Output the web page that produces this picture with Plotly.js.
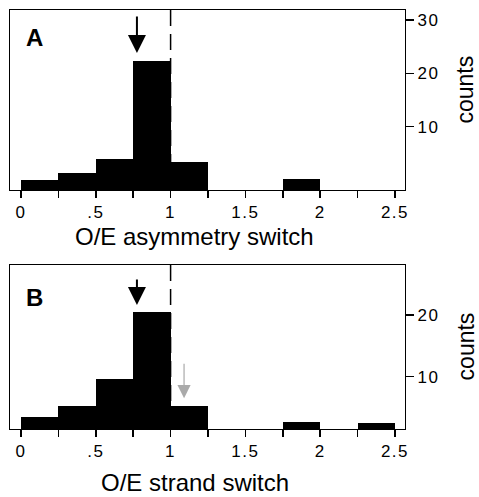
<!DOCTYPE html>
<html>
<head>
<meta charset="utf-8">
<script src="https://cdn.plot.ly/plotly-3.0.1.min.js"></script>
<style>
html,body{margin:0;padding:0;background:#fff;}
#chart{width:479px;height:497px;}
#chart .xtick text, #chart .ytick text, #chart .x2tick text, #chart .y2tick text {letter-spacing: 1.5px;}
</style>
</head>
<body>
<div id="chart"></div>
<script>
// bin left edges (width 0.25)
const binStarts = [0, 0.25, 0.5, 0.75, 1.0, 1.25, 1.5, 1.75, 2.0, 2.25];
const countsA = [1.9, 3.1, 5.8, 24.1, 5.2, 0, 0, 2.0, 0, 0];
const countsB = [2.0, 3.7, 8.1, 18.9, 3.7, 0, 0, 1.1, 0, 1.0];
const xTickVals = [0, 0.5, 1, 1.5, 2, 2.5];
const xTickText = ["0", ".5", "1", "1.5", "2", "2.5"];
const yTickValsA = [10, 20, 30];
const yTickValsB = [10, 20];
const meanA = 0.775, meanB = 0.775, expectedRatio = 1, grayB = 1.09;
const titleA = "O/E asymmetry switch", titleB = "O/E strand switch", yTitle = "counts";

const rangeA = [-1.87, 31.875];
const rangeB = [1.52, 28.1];
const xRange = [-0.0735, 2.567];

const FONT = "Liberation Sans, Arial, Helvetica, sans-serif";

const traces = [
  {type: "bar", x: binStarts, y: countsA, base: rangeA[0], offset: 0, width: 0.25,
   marker: {color: "#000", line: {width: 0}}, xaxis: "x", yaxis: "y", hoverinfo: "skip"},
  {type: "bar", x: binStarts, y: countsB, base: rangeB[0], offset: 0, width: 0.25,
   marker: {color: "#000", line: {width: 0}}, xaxis: "x2", yaxis: "y2", hoverinfo: "skip"}
];

function xAxis(anchor) {
  return {
    anchor: anchor, domain: [0, 1], range: xRange, showgrid: false, zeroline: false,
    tickmode: "array", tickvals: xTickVals, ticktext: xTickText,
    ticks: "outside", ticklen: 7, tickwidth: 1.5, tickcolor: "#000",
    minor: {tickmode: "linear", tick0: 0, dtick: 0.25, ticks: "outside", ticklen: 7, tickwidth: 1.5, tickcolor: "#000"},
    showline: true, mirror: true, linecolor: "#000", linewidth: 1,
    tickfont: {family: FONT, size: 17, color: "#000"}
  };
}
function yAxis(anchor, domain, range, tv) {
  return {
    anchor: anchor, domain: domain, range: range, side: "right", showgrid: false, zeroline: false,
    tickmode: "array", tickvals: tv, ticks: "outside", ticklen: 8, tickwidth: 1.5, tickcolor: "#000",
    showline: true, mirror: true, linecolor: "#000", linewidth: 1.2,
    tickfont: {family: FONT, size: 17, color: "#000"}
  };
}
const titleFont = {family: FONT, size: 24, color: "#000"};
const yTitleFont = {family: FONT, size: 23, color: "#000"};

const layout = {
  width: 479, height: 497,
  margin: {l: 10, r: 74, t: 10, b: 68},
  paper_bgcolor: "#fff", plot_bgcolor: "#fff",
  showlegend: false, bargap: 0,
  xaxis: xAxis("y"),
  yaxis: yAxis("x", [0.5704, 1], rangeA, yTickValsA),
  xaxis2: xAxis("y2"),
  yaxis2: yAxis("x2", [0, 0.3914], rangeB, yTickValsB),
  shapes: [
    {type: "line", xref: "x", yref: "y domain", x0: expectedRatio, x1: expectedRatio, y0: 1, y1: 0,
     line: {color: "#000", width: 1.5, dash: "16px,8px"}, layer: "below"},
    {type: "line", xref: "x2", yref: "y2 domain", x0: expectedRatio, x1: expectedRatio, y0: 1, y1: 0,
     line: {color: "#000", width: 1.5, dash: "16px,8px"}, layer: "below"}
  ],
  annotations: [
    {text: "<b>A</b>", xref: "x domain", yref: "y domain", x: 0.062, y: 0.85, xanchor: "center", yanchor: "middle",
     showarrow: false, font: titleFont},
    {text: "<b>B</b>", xref: "x2 domain", yref: "y2 domain", x: 0.063, y: 0.80, xanchor: "center", yanchor: "middle",
     showarrow: false, font: titleFont},
    // axis titles
    {text: titleA, xref: "paper", yref: "paper", x: 0.468, y: 0.4606, yanchor: "middle", xanchor: "center",
     showarrow: false, font: titleFont},
    {text: titleB, xref: "paper", yref: "paper", x: 0.468, y: -0.1265, yanchor: "middle", xanchor: "center",
     showarrow: false, font: titleFont},
    {text: yTitle, xref: "paper", yref: "paper", x: 1.1532, y: 0.809, textangle: -90, xanchor: "center", yanchor: "middle",
     showarrow: false, font: yTitleFont},
    {text: yTitle, xref: "paper", yref: "paper", x: 1.1532, y: 0.196, textangle: -90, xanchor: "center", yanchor: "middle",
     showarrow: false, font: yTitleFont},
    // arrows
    {text: "", xref: "x", yref: "y", x: meanA, y: 23.8, ax: 0, ay: -38, showarrow: true,
     arrowhead: 2, arrowsize: 1.8, arrowwidth: 2, arrowcolor: "#000", standoff: 0},
    {text: "", xref: "x2", yref: "y2", x: meanB, y: 21.6, ax: 0, ay: -27, showarrow: true,
     arrowhead: 2, arrowsize: 1.8, arrowwidth: 2, arrowcolor: "#000", standoff: 0},
    {text: "", xref: "x2", yref: "y2", x: grayB, y: 6.5, ax: 0, ay: -36, showarrow: true,
     arrowhead: 2, arrowsize: 2.2, arrowwidth: 1.2, arrowcolor: "#aaa", standoff: 0}
  ]
};

Plotly.newPlot("chart", traces, layout, {staticPlot: true, displayModeBar: false});
</script>
</body>
</html>
